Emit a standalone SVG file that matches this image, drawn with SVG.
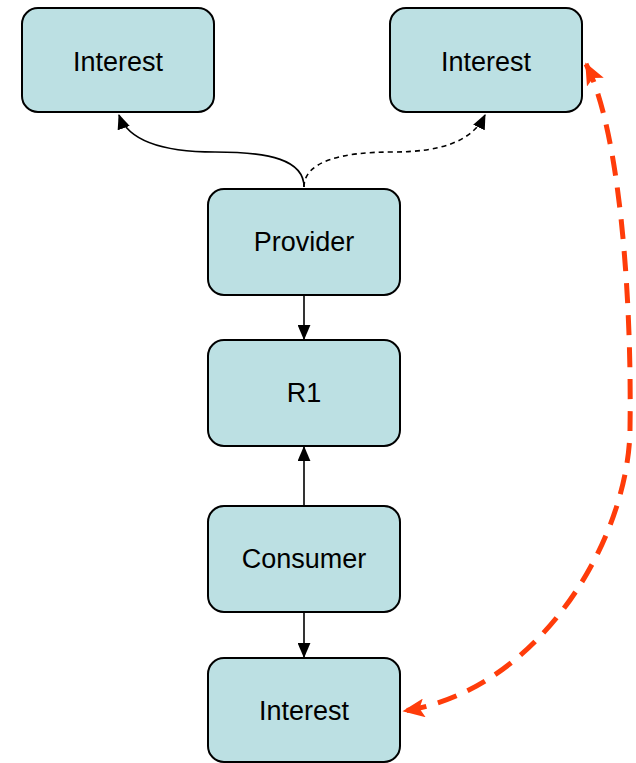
<svg xmlns="http://www.w3.org/2000/svg" width="636" height="763" viewBox="0 0 636 763">
  <style>
    .box { fill: #bce0e3; stroke: #000; stroke-width: 2; }
    .label { font-family: "Liberation Sans", Arial, sans-serif; font-size: 27px; fill: #000; text-anchor: middle; dominant-baseline: central; }
    .edge { fill: none; stroke: #000; stroke-width: 1.6; }
    .dash { stroke-dasharray: 5 4; }
    .red { fill: none; stroke: #ff3c0a; stroke-width: 5; stroke-dasharray: 20 12; }
  </style>
  <defs>
    <marker id="arrow" viewBox="0 0 14 12" refX="13" refY="6" markerWidth="15" markerHeight="13" markerUnits="userSpaceOnUse" orient="auto">
      <path d="M0,0 L14,6 L0,12 Z" fill="#000"/>
    </marker>
    <marker id="redArrow" viewBox="0 0 14 12" refX="13" refY="6" markerWidth="22" markerHeight="19" markerUnits="userSpaceOnUse" orient="auto">
      <path d="M0,0 L14,6 L0,12 L3,6 Z" fill="#ff3c0a"/>
    </marker>
    <marker id="redArrowStart" viewBox="0 0 14 12" refX="1" refY="6" markerWidth="22" markerHeight="19" markerUnits="userSpaceOnUse" orient="auto">
      <path d="M14,0 L0,6 L14,12 L11,6 Z" fill="#ff3c0a"/>
    </marker>
  </defs>

  <g id="connectors">
    <path class="edge" d="M304,187 C304,160 270,152 215,152 C160,152 128,140 119,115" marker-end="url(#arrow)"/>
    <path class="edge dash" d="M304,187 C304,162 340,152 392,152 C440,152 472,142 485,115" marker-end="url(#arrow)"/>
    <path class="edge" d="M304,296 L304,339" marker-end="url(#arrow)"/>
    <path class="edge" d="M304,506 L304,447" marker-end="url(#arrow)"/>
    <path class="edge" d="M304,612 L304,657" marker-end="url(#arrow)"/>
    <path class="red" d="M586,64 C620,130 632,300 630,430 C628,540 540,690 404,711" marker-start="url(#redArrowStart)" marker-end="url(#redArrow)"/>
  </g>

  <g id="interest-left">
    <rect class="box" x="22" y="8" width="192" height="104" rx="16"/>
    <text class="label" x="118" y="62">Interest</text>
  </g>
  <g id="interest-right">
    <rect class="box" x="390" y="8" width="192" height="104" rx="16"/>
    <text class="label" x="486" y="62">Interest</text>
  </g>
  <g id="provider">
    <rect class="box" x="208" y="189" width="192" height="106" rx="16"/>
    <text class="label" x="304" y="242">Provider</text>
  </g>
  <g id="r1">
    <rect class="box" x="208" y="340" width="192" height="106" rx="16"/>
    <text class="label" x="304" y="393">R1</text>
  </g>
  <g id="consumer">
    <rect class="box" x="208" y="506" width="192" height="106" rx="16"/>
    <text class="label" x="304" y="559">Consumer</text>
  </g>
  <g id="interest-bottom">
    <rect class="box" x="208" y="658" width="192" height="104" rx="16"/>
    <text class="label" x="304" y="711">Interest</text>
  </g>
</svg>
